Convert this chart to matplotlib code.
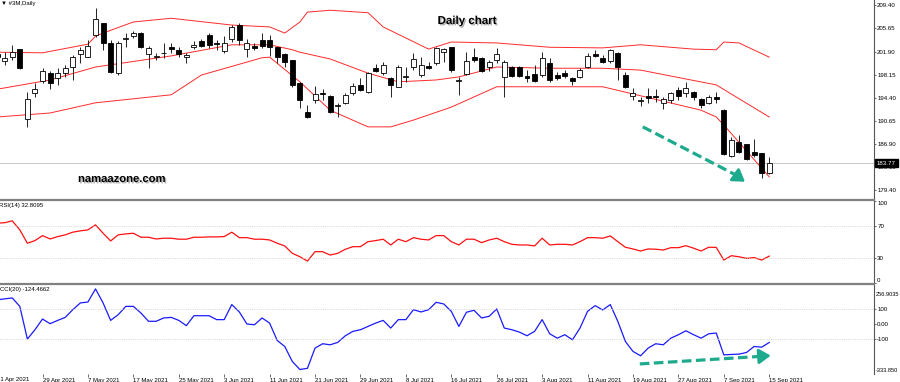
import numpy as np
import matplotlib
matplotlib.use("Agg")
import matplotlib.pyplot as plt
from matplotlib.lines import Line2D
from matplotlib import patheffects

plt.rcParams['font.family'] = ['Liberation Sans', 'DejaVu Sans']

W, H = 900, 382

# daily bars, 21 Apr 2021 .. 15 Sep 2021 (bar 0 sits just off the left edge)
opens = [201.5, 200.4, 201.0, 202.3, 191.0, 195.2, 197.1, 198.4, 197.6, 198.4,
         199.4, 201.5, 201.0, 204.6, 206.5, 203.3, 198.4, 203.9, 204.4, 204.9,
         201.5, 201.0, 201.6, 202.6, 202.2, 201.0, 202.6, 203.6, 204.6, 203.3,
         202.0, 203.9, 206.2, 202.3, 202.8, 203.8, 203.8, 202.6, 201.5, 200.5,
         196.8, 192.1, 194.05, 195.2, 194.7, 193.1, 193.6, 195.2, 196.5, 195.35,
         199.2, 198.4, 197.6, 196.2, 197.8, 199.4, 198.1, 199.6, 200.05, 201.8,
         202.6, 197.2, 198.3, 201.0, 200.9, 199.4, 200.5, 197.8, 199.4, 199.4,
         197.9, 198.3, 198.1, 200.05, 198.1, 198.4, 197.6, 197.8, 199.4, 201.5,
         200.9, 200.4, 201.7, 198.1, 194.7, 193.9, 194.7, 194.7, 193.6, 194.05,
         195.7, 195.2, 195.35, 194.2, 193.6, 194.5, 192.4, 184.98, 187.2, 186.9,
         185.6, 185.5, 182.2]
highs = [202.0, 201.8, 203.0, 202.4, 195.35, 196.8, 199.2, 198.7, 199.2, 199.7,
         201.35, 202.6, 203.8, 209.0, 206.6, 203.8, 203.6, 204.9, 205.2, 205.0,
         202.8, 201.7, 203.3, 203.3, 202.6, 201.7, 203.6, 203.9, 204.9, 203.8,
         204.4, 206.2, 206.5, 203.9, 203.3, 204.9, 204.6, 202.7, 201.6, 200.6,
         196.9, 193.2, 196.3, 195.8, 194.9, 193.6, 195.2, 196.8, 197.6, 198.6,
         199.9, 200.2, 197.8, 199.7, 199.4, 201.7, 201.0, 200.2, 202.6, 202.5,
         202.7, 197.8, 201.8, 202.5, 201.0, 200.5, 202.5, 200.5, 199.6, 199.5,
         198.9, 199.7, 201.8, 200.9, 198.6, 198.9, 197.8, 199.2, 201.7, 202.2,
         201.35, 202.3, 201.8, 198.6, 196.0, 194.5, 196.0, 195.8, 194.5, 195.35,
         196.2, 197.0, 195.5, 194.4, 194.9, 195.35, 192.6, 188.05, 188.4, 187.0,
         187.7, 185.5, 184.8]
lows = [200.5, 199.7, 200.5, 199.1, 189.7, 194.5, 196.8, 195.8, 196.5, 197.8,
        197.3, 200.05, 201.0, 204.3, 202.2, 198.5, 198.1, 202.6, 204.1, 202.5,
        199.2, 200.5, 200.9, 201.7, 201.0, 200.05, 202.3, 202.6, 202.5, 202.2,
        201.7, 203.5, 203.0, 201.0, 202.2, 202.5, 201.2, 200.05, 199.4, 196.2,
        192.8, 191.1, 193.6, 194.05, 191.9, 191.3, 193.4, 194.9, 195.5, 195.2,
        198.6, 198.1, 194.5, 196.1, 197.0, 198.9, 197.8, 199.1, 199.7, 200.2,
        198.6, 194.9, 198.1, 200.2, 198.6, 198.75, 200.05, 194.5, 197.8, 197.8,
        197.0, 197.0, 197.8, 197.0, 197.3, 197.6, 196.5, 197.6, 199.2, 201.0,
        200.05, 200.05, 197.3, 196.0, 194.05, 193.1, 193.6, 193.7, 192.6, 193.6,
        194.05, 194.5, 194.05, 192.8, 193.4, 193.6, 185.1, 184.8, 185.5, 184.3,
        184.8, 181.4, 182.1]
closes = [201.0, 200.8, 201.8, 199.2, 194.2, 195.8, 198.75, 196.8, 198.4, 199.2,
          201.0, 202.2, 202.8, 207.2, 203.3, 198.6, 203.3, 204.1, 204.9, 202.6,
          202.5, 201.2, 201.7, 202.4, 201.5, 201.35, 203.0, 202.8, 203.0, 203.1,
          203.3, 205.9, 203.8, 203.3, 202.5, 202.8, 202.6, 201.0, 200.2, 196.5,
          194.05, 191.3, 195.0, 195.0, 192.1, 193.2, 194.9, 196.3, 195.7, 198.4,
          198.75, 199.7, 196.5, 199.4, 197.9, 200.7, 199.7, 199.2, 202.5, 202.3,
          198.9, 197.3, 200.4, 200.5, 198.75, 200.2, 201.5, 200.2, 197.9, 197.9,
          197.6, 197.1, 200.9, 197.3, 197.6, 197.9, 197.1, 198.9, 201.2, 201.2,
          200.2, 202.2, 199.4, 196.2, 195.2, 194.0, 194.4, 194.5, 194.2, 195.2,
          194.7, 196.0, 194.5, 193.2, 194.5, 194.2, 185.3, 187.6, 185.6, 184.5,
          185.1, 182.2, 183.77]

# Bollinger bands (20) at selected bars
upper_bars = [0, 6, 12, 13, 14, 18, 23, 31, 36, 38, 40, 41, 44, 49, 51, 57, 60, 66, 73, 80, 85, 92, 95, 96, 98, 102]
upper_band = [201.8, 201.7, 203.1, 204.4, 204.9, 206.7, 207.3, 206.2, 205.9, 204.9, 206.7, 208.3, 208.6, 208.2,
              205.9, 202.3, 203.45, 203.3, 202.6, 202.5, 203.0, 202.3, 202.2, 203.45, 203.3, 201.0]
mid_bars = [0, 7, 13, 23, 31, 36, 39, 40, 44, 49, 53, 58, 61, 66, 73, 80, 85, 95, 102]
mid_band = [195.8, 197.3, 199.4, 201.2, 203.0, 203.0, 202.2, 201.8, 200.7, 198.4, 197.0, 197.3, 197.8, 199.4,
            199.2, 199.2, 198.9, 196.5, 191.3]
lower_bars = [0, 7, 13, 23, 27, 35, 36, 40, 44, 49, 52, 55, 60, 66, 80, 93, 95, 96, 102]
lower_band = [191.3, 191.95, 193.6, 194.9, 198.1, 200.9, 201.0, 197.0, 192.4, 189.7, 189.7, 190.8, 192.9, 196.2,
              196.2, 192.4, 191.3, 190.0, 181.6]

rsi = [73.0, 73.5, 75.8, 64.8, 48.5, 51.7, 57.8, 53.7, 56.6, 58.7,
       62.0, 63.6, 64.8, 70.9, 60.7, 51.3, 58.7, 59.9, 60.7, 55.8,
       55.8, 53.7, 54.6, 54.6, 53.4, 53.4, 55.8, 55.8, 56.2, 56.2,
       56.6, 62.0, 55.3, 55.3, 53.4, 53.4, 52.5, 48.5, 45.2, 36.2,
       32.0, 26.7, 38.2, 38.2, 34.1, 36.2, 41.1, 44.3, 44.3, 50.4,
       51.7, 53.4, 46.4, 53.4, 50.4, 55.3, 53.4, 52.5, 57.8, 57.8,
       50.4, 46.4, 53.4, 53.4, 49.2, 52.5, 54.6, 50.4, 47.2, 46.4,
       46.4, 45.2, 54.6, 46.4, 47.2, 47.2, 46.4, 50.4, 55.3, 55.3,
       54.6, 57.4, 50.4, 43.6, 41.5, 39.0, 41.5, 41.2, 40.2, 43.1,
       43.1, 45.5, 42.5, 39.0, 43.6, 43.4, 28.0, 33.3, 32.0, 30.0,
       31.0, 28.0, 32.81]

cci = [158, 165, 171, 115, -102, -40, 31, 0, 22, 42,
       93, 138, 144, 231, 138, 22, 60, 115, 115, 71,
       16, 16, 38, 42, 22, -13, 53, 53, 53, 27,
       27, 127, 78, -2, -7, 38, 4, -111, -151, -251,
       -304, -296, -162, -133, -140, -124, -80, -51, -40, -18,
       4, 22, -29, 27, 27, 93, 78, 93, 142, 131,
       82, -18, 76, 89, 38, 49, 98, -29, -40, -56,
       -80, -51, 27, -67, -96, -73, -107, -29, 82, 120,
       91, 127, 15, -118, -184, -213, -162, -133, -140, -96,
       -73, -47, -73, -96, -67, -62, -207, -204, -202, -191,
       -151, -156, -124.47]

date_bars = list(range(0, 103, 6))
date_labels = ['21 Apr 2021', '29 Apr 2021', '7 May 2021', '17 May 2021', '25 May 2021', '3 Jun 2021',
               '11 Jun 2021', '21 Jun 2021', '29 Jun 2021', '8 Jul 2021', '16 Jul 2021', '26 Jul 2021',
               '3 Aug 2021', '11 Aug 2021', '19 Aug 2021', '27 Aug 2021', '7 Sep 2021', '15 Sep 2021']

price_ticks = [209.40, 205.65, 201.90, 198.15, 194.40, 190.65, 186.90, 183.15, 179.40]
last_price = 183.77
cci_top, cci_bottom = 256.9035, -333.850


def px_box(x0, y0, x1, y1):
    return [x0 / W, 1 - y1 / H, (x1 - x0) / W, (y1 - y0) / H]


fig = plt.figure(figsize=(W / 100, H / 100), dpi=100)
fig.patch.set_facecolor('white')
ax = fig.add_axes(px_box(0, 0, 874, 199))
ax_rsi = fig.add_axes(px_box(0, 201, 874, 283))
ax_cci = fig.add_axes(px_box(0, 285, 874, 374))

xlim = (2.9 / 7.57, 876.9 / 7.57)
for a in (ax, ax_rsi, ax_cci):
    for s in ('left', 'top', 'bottom'):
        a.spines[s].set_visible(False)
    a.spines['right'].set_color('#555555')
    a.spines['right'].set_linewidth(0.8)
    a.yaxis.tick_right()
    a.tick_params(axis='y', length=1.5, width=0.6, color='#555555', labelsize=4.4, pad=0.8)
    a.set_xlim(*xlim)
    a.set_facecolor('white')

# candles
x = np.arange(len(closes))
o = np.array(opens)
c = np.array(closes)
ax.vlines(x, lows, highs, color='black', lw=0.6, zorder=3)
ax.bar(x, np.abs(c - o), width=0.66, bottom=np.minimum(o, c),
       color=np.where(c >= o, 'white', 'black'), edgecolor='black', lw=0.6, zorder=4)

ax.plot(upper_bars, upper_band, color='#ff2a2a', lw=0.7, zorder=2)
ax.plot(mid_bars, mid_band, color='#ff2a2a', lw=0.7, zorder=2)
ax.plot(lower_bars, lower_band, color='#ff2a2a', lw=0.7, zorder=2)

ax.axhline(last_price, color='#c8c8c8', lw=0.7, zorder=1)
ax.set_ylim(178.01, 210.26)
ax.set_yticks(price_ticks)
ax.set_yticklabels([f'{v:.2f}' for v in price_ticks])
ax.tick_params(axis='x', bottom=False, labelbottom=False)
ax.text(877 / 874, last_price, f'{last_price:.2f}', transform=ax.get_yaxis_transform(),
        fontsize=4.4, color='white', ha='left', va='center', zorder=10, clip_on=False,
        bbox=dict(boxstyle='square,pad=0.25', fc='black', ec='black'))

arrow_c = '#1eaa8c'
ax.plot([85.3, 97.6], [189.7, 181.9], color=arrow_c, lw=2.3, ls=(0, (3, 1.4)), zorder=5)
ax.annotate('', xy=(98.8, 180.8), xytext=(97.4, 182.0),
            arrowprops=dict(arrowstyle='-|>,head_length=0.7,head_width=0.45', color=arrow_c, lw=2.0,
                            shrinkA=0, shrinkB=0), zorder=5)

# RSI
ax_rsi.plot(x, rsi, color='#ff1010', lw=0.9)
for lvl in (70, 30):
    ax_rsi.axhline(lvl, color='#c8c8c8', lw=0.6, ls=':')
ax_rsi.set_ylim(0, 100)
ax_rsi.set_yticks([100, 70, 30, 0])
ax_rsi.set_yticklabels(['100', '70', '30', '0'])
labs = ax_rsi.get_yticklabels()
labs[0].set_va('top')
labs[-1].set_va('bottom')
ax_rsi.tick_params(axis='x', bottom=False, labelbottom=False)

# CCI
ax_cci.plot(x, cci, color='#1a1aff', lw=0.9)
for lvl in (100, -100):
    ax_cci.axhline(lvl, color='#c8c8c8', lw=0.6, ls=':')
ax_cci.set_ylim(cci_bottom, cci_top)
ax_cci.set_yticks([100, 0, -100])
ax_cci.set_yticklabels(['100', '0.00', '-100'])
ax_cci.text(876 / 874, (374 - 294) / 89, f'{cci_top:.4f}', transform=ax_cci.transAxes,
            fontsize=4.1, ha='left', va='center')
ax_cci.text(876 / 874, (374 - 370) / 89, f'{cci_bottom:.3f}', transform=ax_cci.transAxes,
            fontsize=4.1, ha='left', va='center')
ax_cci.plot([84.9, 100.5], [-267, -218], color=arrow_c, lw=2.3, ls=(0, (3, 1.4)), zorder=5)
ax_cci.annotate('', xy=(102.2, -212), xytext=(100.3, -218),
                arrowprops=dict(arrowstyle='-|>,head_length=0.7,head_width=0.45', color=arrow_c, lw=2.0,
                                shrinkA=0, shrinkB=0), zorder=5)

ax_cci.set_xticks(date_bars[1:])
ax_cci.set_xticklabels(date_labels[1:])
ax_cci.tick_params(axis='x', length=2.5, width=0.6, color='#555555', labelsize=4.3, pad=0.3)
for t in ax_cci.get_xticklabels():
    t.set_ha('left')
ax_cci.text(date_bars[0], -0.035, date_labels[0], transform=ax_cci.get_xaxis_transform(),
            fontsize=4.3, ha='left', va='top', clip_on=False)

# panel separators
for yy in (200, 284):
    fig.add_artist(Line2D([0, 874 / W], [1 - yy / H] * 2, transform=fig.transFigure,
                          color='#808080', lw=1.6))

# captions
fig.text(1 / W, 1 - 3 / H, '\u25bc #3M,Daily', fontsize=4.3, ha='left', va='center')
fig.text(-1 / W, 1 - 205.5 / H, 'RSI(14) 32.8095', fontsize=4.3, ha='left', va='center')
fig.text(0 / W, 1 - 289.5 / H, 'CCI(20) -124.4662', fontsize=4.3, ha='left', va='center')

shadow = [patheffects.withSimplePatchShadow(offset=(1, -1), shadow_rgbFace='#777777', alpha=0.6)]
fig.text(467 / W, 1 - 21 / H, 'Daily chart', fontsize=8.3, fontweight='bold', ha='center', va='center',
         path_effects=shadow)
fig.text(78 / W, 1 - 179 / H, 'namaazone.com', fontsize=8.1, fontweight='bold', ha='left', va='center',
         path_effects=shadow)

fig.savefig('out.png', dpi=100, facecolor='white')
